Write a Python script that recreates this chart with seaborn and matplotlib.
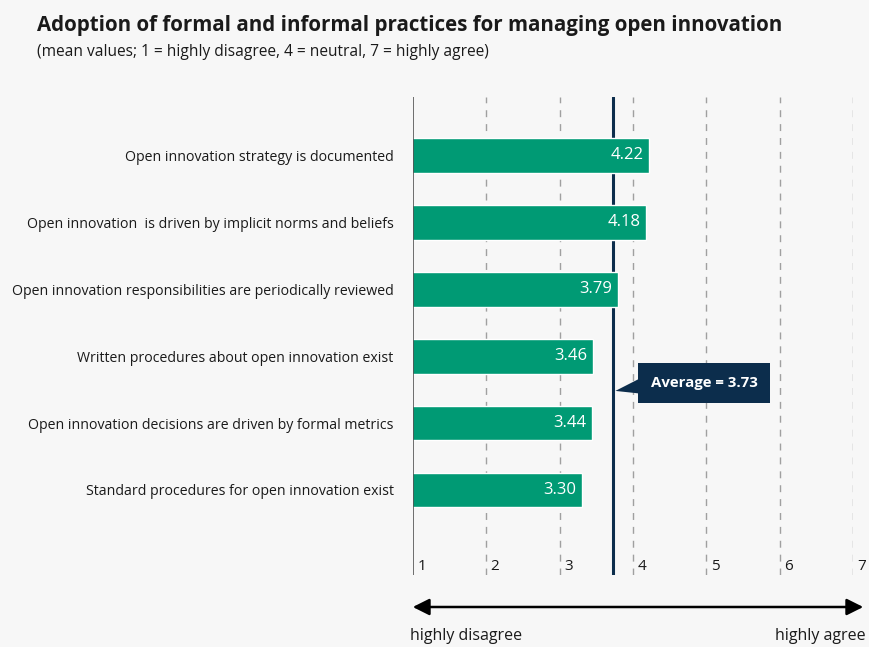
import pandas as pd
import seaborn as sns
from matplotlib import pyplot as plt
from matplotlib.patches import Polygon, FancyArrowPatch

# data
practices = [
    "Open innovation strategy is documented",
    "Open innovation  is driven by implicit norms and beliefs",
    "Open innovation responsibilities are periodically reviewed",
    "Written procedures about open innovation exist",
    "Open innovation decisions are driven by formal metrics",
    "Standard procedures for open innovation exist",
]
means = [4.22, 4.18, 3.79, 3.46, 3.44, 3.30]
average = 3.73
scale_ticks = [1, 2, 3, 4, 5, 6, 7]

BG = "#f7f7f7"
GREEN = "#009a74"
NAVY = "#0c2d4c"
TXT = "#1a1a1a"

sns.set_theme(style="white")
plt.rcParams["font.family"] = ["Open Sans", "DejaVu Sans"]

df = pd.DataFrame({"practice": practices, "mean": means})

fig = plt.figure(figsize=(8.7, 6.47), dpi=100, facecolor=BG)
ax = fig.add_axes([0.4747, 0.1113, 0.5058, 0.7387])
ax.set_facecolor(BG)

sns.barplot(data=df, x="mean", y="practice", color=GREEN, width=0.52,
            saturation=1, ax=ax, zorder=3)

ax.set_xlim(1, 7)
ax.set_ylim(len(practices) - 1 + 1.27, -0.87)

# grid lines
for t in scale_ticks[1:]:
    ax.axvline(t, color="#a0a0a0", lw=1, ls=(0, (5, 5)), zorder=1)
ax.axvline(1, color="#555555", lw=1.2, zorder=4)
ax.axvline(average, color=NAVY, lw=2.2, zorder=2)

for s in ax.spines.values():
    s.set_visible(False)
ax.set_xticks([])
ax.set_xlabel("")
ax.set_ylabel("")
ax.tick_params(axis="y", length=0, pad=14, labelsize=10.2, labelcolor=TXT)

# scale numbers at the bottom of the grid lines
for t in scale_ticks:
    ax.text(t + 0.06, len(practices) - 1 + 1.25, str(t), ha="left", va="bottom",
            fontsize=11, color=TXT)

# value labels inside bars
for i, v in enumerate(means):
    ax.text(v - 0.08, i, f"{v:.2f}", ha="right", va="center",
            color="white", fontsize=12, zorder=5)

# average callout
ax.text(4.97, 3.40, f"Average = {average:.2f}", ha="center", va="center",
        color="white", fontsize=10.8, fontweight="bold", zorder=6,
        bbox=dict(boxstyle="square,pad=0.85", fc=NAVY, ec="none"))
tri = Polygon([[4.1, 3.33], [average + 0.03, 3.52], [4.1, 3.56]],
              closed=True, fc=NAVY, ec="none", zorder=6, clip_on=False)
ax.add_patch(tri)

# titles
fig.text(0.0425, 0.96, "Adoption of formal and informal practices for managing open innovation",
         fontsize=14.8, fontweight="bold", color=TXT, ha="left", va="center")
fig.text(0.0425, 0.92, "(mean values; 1 = highly disagree, 4 = neutral, 7 = highly agree)",
         fontsize=11.2, color=TXT, ha="left", va="center")

# bottom arrow
fig.add_artist(FancyArrowPatch(
    (410 / 870, 1 - 607 / 647), (866 / 870, 1 - 607 / 647),
    transform=fig.transFigure, arrowstyle="<|-|>,head_length=10,head_width=5",
    color="black", lw=1.8))
fig.text(410 / 870, 1 - 636 / 647, "highly disagree", fontsize=11.5, color=TXT,
         ha="left", va="center")
fig.text(866 / 870, 1 - 636 / 647, "highly agree", fontsize=11.5, color=TXT,
         ha="right", va="center")

fig.savefig("out.png", dpi=100, facecolor=BG)
